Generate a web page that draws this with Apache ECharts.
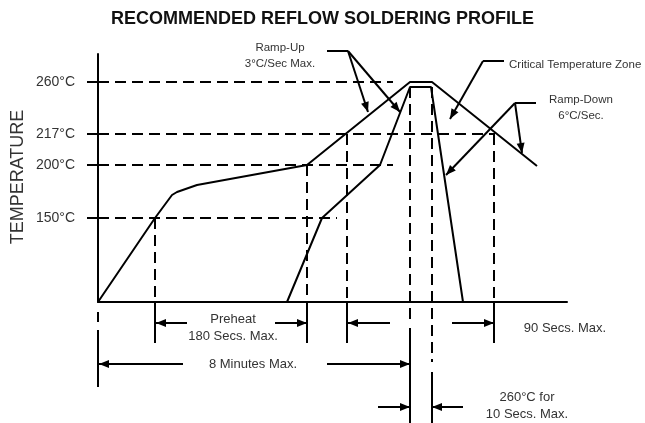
<!DOCTYPE html>
<html lang="en">
  <head>
    <meta charset="UTF-8" />
    <title>Recommended reflow soldering profile</title>
    <style>
      html, body { margin: 0; padding: 0; background: #fff; }
      #chart { width: 645px; height: 423px; }
    </style>
  </head>
  <body>
    <div id="chart"></div>
    <script src="https://cdn.jsdelivr.net/npm/echarts@6/dist/echarts.min.js"></script>
    <script>
      // diagram units: x = time from start, y = height above the baseline
      const tempLabels = ["150°C", "200°C", "217°C", "260°C"];
      const tempLevels = [84, 137, 168, 220];

      // outer profile (max limits)
      const outerX = [0, 57, 74, 79, 99, 209, 312, 334, 439];
      const outerY = [0, 84, 107, 110, 117, 137, 220, 220, 136];

      // inner profile
      const innerX = [189, 224, 282, 312, 333, 365];
      const innerY = [0, 84, 137, 215, 215, 0];

      // [x1, y1, x2, y2]
      const dashedGuides = [
        [0, 220, 295, 220],
        [0, 168, 397, 168],
        [0, 137, 295, 137],
        [0, 84, 239, 84],
        [57, 84, 57, 0],
        [209, 137, 209, 0],
        [249, 168, 249, 0],
        [396, 168, 396, 0],
        [312, 215, 312, -21],
        [334, 215, 334, -60]
      ];
      const extensionLines = [
        [57, 0, 57, -41],
        [209, 0, 209, -41],
        [249, 0, 249, -41],
        [396, 0, 396, -41],
        [0, -10, 0, -20],
        [0, -28, 0, -85],
        [312, -26, 312, -121],
        [334, -70, 334, -121]
      ];
      const dimensionArrows = [
        [89, -21, 58, -21],
        [177, -21, 209, -21],
        [292, -21, 250, -21],
        [354, -21, 396, -21],
        [85, -62, 1, -62],
        [229, -62, 312, -62],
        [280, -105, 312, -105],
        [365, -105, 334, -105]
      ];
      const leaderLines = [
        [229, 251, 250, 251],
        [385, 241, 406, 241],
        [417, 199, 438, 199]
      ];
      const leaderArrows = [
        [250, 251, 270, 190],
        [250, 251, 302, 190],
        [385, 241, 352, 183],
        [417, 199, 424, 149],
        [417, 199, 348, 127]
      ];

      const font = "Liberation Sans, Arial, sans-serif";
      // arrow head with its tip in the middle of the symbol box
      const arrowHead = "path://M-10,-10M10,10M0,0L4,10L-4,10Z";
      const seg = (list) =>
        list.map((s) => ({ coords: [[s[0], s[1]], [s[2], s[3]]] }));
      const zip = (xs, ys) => xs.map((x, i) => [x, ys[i]]);

      const note = (text, x, y, size, align) => ({
        type: "text",
        x: x,
        y: y,
        style: {
          text: text,
          fill: "#333",
          font: size + "px " + font,
          textAlign: align || "center",
          textVerticalAlign: "middle",
          lineHeight: size + 4
        }
      });

      const myChart = echarts.init(document.getElementById("chart"));
      const option = {
        animation: false,
        title: {
          text: "RECOMMENDED REFLOW SOLDERING PROFILE",
          left: "center",
          top: 5,
          textStyle: { fontFamily: font, fontWeight: "bold", fontSize: 18, color: "#111" }
        },
        grid: { left: 98, right: 78, top: 54, bottom: 121 },
        xAxis: {
          type: "value",
          min: 0,
          max: 469,
          axisLine: { lineStyle: { color: "#000", width: 2 } },
          axisTick: { show: false },
          axisLabel: { show: false },
          splitLine: { show: false }
        },
        yAxis: {
          type: "value",
          min: 0,
          max: 248,
          axisLine: { show: true, lineStyle: { color: "#000", width: 2 } },
          axisTick: {
            show: true,
            length: 11,
            customValues: tempLevels,
            lineStyle: { color: "#000", width: 2 }
          },
          axisLabel: {
            customValues: tempLevels,
            margin: 23,
            fontFamily: font,
            fontSize: 14,
            color: "#333",
            formatter: (v) => tempLabels[tempLevels.indexOf(v)]
          },
          splitLine: { show: false }
        },
        graphic: [
          {
            type: "text",
            x: 18,
            y: 177,
            rotation: Math.PI / 2,
            style: {
              text: "TEMPERATURE",
              fill: "#333",
              font: "18px " + font,
              textAlign: "center",
              textVerticalAlign: "middle"
            }
          },
          note("Ramp-Up\n3°C/Sec Max.", 280, 56, 11.5),
          note("Critical Temperature Zone", 509, 65, 11.5, "left"),
          note("Ramp-Down\n6°C/Sec.", 581, 108, 11.5),
          note("Preheat\n180 Secs. Max.", 233, 328, 13),
          note("90 Secs. Max.", 565, 328, 13),
          note("8 Minutes Max.", 253, 364, 13),
          note("260°C for\n10 Secs. Max.", 527, 406, 13)
        ],
        series: [
          {
            type: "lines",
            coordinateSystem: "cartesian2d",
            clip: false,
            silent: true,
            data: seg(dashedGuides),
            lineStyle: { color: "#000", width: 2, type: [11, 6], opacity: 1 }
          },
          {
            type: "lines",
            coordinateSystem: "cartesian2d",
            clip: false,
            silent: true,
            data: seg(extensionLines.concat(leaderLines)),
            lineStyle: { color: "#000", width: 2, opacity: 1 }
          },
          {
            type: "lines",
            coordinateSystem: "cartesian2d",
            clip: false,
            silent: true,
            symbol: ["none", arrowHead],
            symbolSize: 20,
            data: seg(dimensionArrows.concat(leaderArrows)),
            lineStyle: { color: "#000", width: 2, opacity: 1 }
          },
          {
            type: "line",
            data: zip(outerX, outerY),
            symbol: "none",
            silent: true,
            lineStyle: { color: "#000", width: 2 }
          },
          {
            type: "line",
            data: zip(innerX, innerY),
            symbol: "none",
            silent: true,
            lineStyle: { color: "#000", width: 2 }
          }
        ]
      };
      myChart.setOption(option);
    </script>
  </body>
</html>
